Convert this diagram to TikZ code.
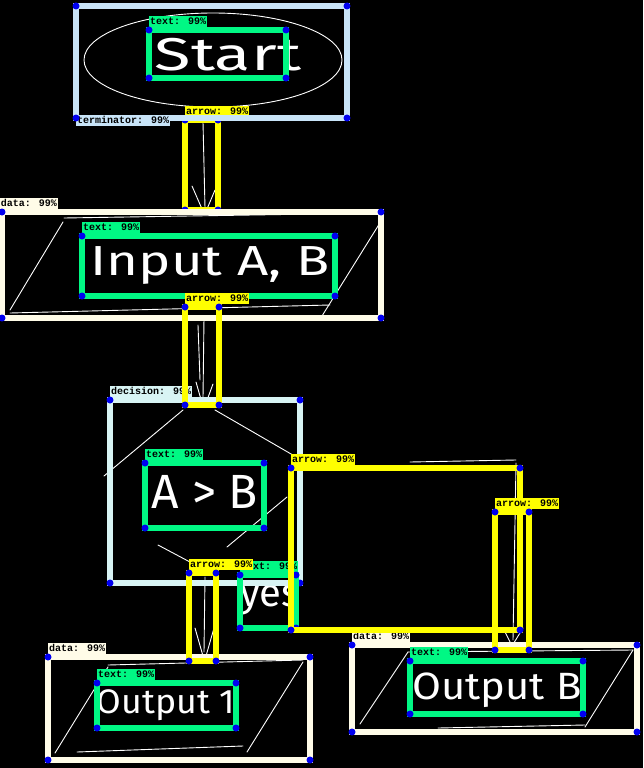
\documentclass[tikz,border=0pt]{standalone}
\usepackage{fontspec}
\newfontfamily\lblfont{Liberation Mono}
\newfontfamily\handfont{Fira Sans}
\definecolor{termc}{HTML}{C8E4F8}
\definecolor{datac}{HTML}{FFFCE8}
\definecolor{decc}{HTML}{D8F4F4}
\definecolor{txtc}{HTML}{00F884}
\definecolor{arrc}{HTML}{FFFF00}
\definecolor{dotc}{HTML}{0000F0}
\tikzset{
 det/.style={draw=#1, line width=6.5pt, inner sep=0pt, outer sep=0pt, anchor=north west, rectangle},
 lab/.style={fill=#1, text=black, font=\lblfont\bfseries\fontsize{10}{10}\selectfont, inner xsep=1pt, inner ysep=0pt, text height=8.5pt, text depth=2.5pt, outer sep=0pt},
 hw/.style={draw=white, line width=0.9pt, line cap=round, line join=round},
 hwtext/.style={text=white, inner sep=0pt, font=\handfont\fontsize{#1}{#1}\selectfont},
}
\newcommand\dbox[6]{%
 \node[det=#6, minimum width={(#4-#2)*1pt}, minimum height={(#5-#3)*1pt}] (#1) at (#2,#3) {};
}
\newcommand\cornerdots[1]{%
 \foreach \cn in {north west,north east,south west,south east} \fill[dotc] (#1.\cn) circle[radius=3.5pt];
}
\newcommand\dlab[3]{%
 \node[lab=#2, anchor=south west, yshift=3pt] (#1-l) at (#1.north west) {#3};
}
\begin{document}
\begin{tikzpicture}[x=1pt,y=-1pt]
\useasboundingbox (0,0) rectangle (643,768);
\fill[black] (0,0) rectangle (643,768);

% ---------- hand-drawn sketch ----------
\draw[hw] (213,60) ellipse [x radius=129pt, y radius=47pt];
\node[hwtext=46] (hstart) at (228,55) {\scalebox{1.45}[1]{Start}};
% arrow 1
\draw[hw] (203,122) -- (205,208);
\draw[hw] (192,186) -- (202,209);
\draw[hw] (215,190) -- (207,209);
% input parallelogram
\draw[hw] (64,218) -- (378,213);
\draw[hw] (63,222) -- (10,310);
\draw[hw] (383,218) -- (322,316);
\draw[hw] (10,313) -- (330,305);
\node[hwtext=42] (hinput) at (210,266) {\scalebox{1.3}[1]{Input A, B}};
% arrow 2
\draw[hw] (204,318) -- (203,398);
\draw[hw] (196,382) -- (202,403);
\draw[hw] (213,384) -- (206,403);
\draw[hw] (198,325) -- (200,380);
% diamond
\draw[hw] (183,410) -- (104,476);
\draw[hw] (215,410) -- (298,458);
\draw[hw] (287,497) -- (227,547);
\draw[hw] (158,545) -- (190,562);
\node[hwtext=48] (hab) at (205,492) {A > B};
\node[hwtext=40] (hyes) at (270,600) {yes};
% arrow 3
\draw[hw] (205,577) -- (204,652);
\draw[hw] (195,628) -- (203,656);
\draw[hw] (214,628) -- (206,656);
% arrow 4
\draw[hw] (410,462) -- (516,460);
\draw[hw] (516,463) -- (513,640);
\draw[hw] (503,628) -- (512,646) -- (523,628);
% output 1 parallelogram
\draw[hw] (108,665) -- (303,660);
\draw[hw] (108,667) -- (55,753);
\draw[hw] (303,662) -- (247,752);
\draw[hw] (77,752) -- (243,746);
\node[hwtext=34] (hout1) at (166,705) {\scalebox{1.05}[1]{Output 1}};
% output B parallelogram
\draw[hw] (408,652) -- (633,650);
\draw[hw] (408,652) -- (360,724);
\draw[hw] (633,650) -- (585,727);
\draw[hw] (438,728) -- (585,725);
\node[hwtext=38] (houtb) at (497,690) {\scalebox{1.1}[1]{Output B}};

% ---------- detections ----------
\dbox{a1}{185}{120}{218}{210}{arrc}
\dlab{a1}{arrc}{arrow: 99\%}
\cornerdots{a1}

\dbox{term}{76}{6}{347}{118}{termc}
\node[lab=termc, anchor=north west, yshift=3pt] (term-l) at (term.south west) {terminator: 99\%};
\cornerdots{term}

\dbox{d1}{2}{212}{381}{318}{datac}
\node[lab=datac, anchor=south west, yshift=3pt] (d1-l) at (0,212) {data: 99\%};
\cornerdots{d1}

\dbox{d2}{352}{645}{637}{732}{datac}
\dlab{d2}{datac}{data: 99\%}
\cornerdots{d2}

\dbox{d3}{48}{657}{310}{760}{datac}
\dlab{d3}{datac}{data: 99\%}
\cornerdots{d3}

\dbox{dec}{110}{400}{300}{583}{decc}
\dlab{dec}{decc}{decision: 99\%}
\cornerdots{dec}

\dbox{t1}{149}{30}{286}{78}{txtc}
\dlab{t1}{txtc}{text: 99\%}
\cornerdots{t1}

\dbox{t2}{82}{236}{335}{296}{txtc}
\dlab{t2}{txtc}{text: 99\%}
\cornerdots{t2}

\dbox{t3}{145}{463}{264}{528}{txtc}
\dlab{t3}{txtc}{text: 99\%}
\cornerdots{t3}

\dbox{t4}{240}{575}{296}{628}{txtc}
\dlab{t4}{txtc}{text: 99\%}
\cornerdots{t4}

\dbox{t5}{97}{683}{236}{728}{txtc}
\dlab{t5}{txtc}{text: 99\%}
\cornerdots{t5}

\dbox{t6}{410}{661}{583}{714}{txtc}
\dlab{t6}{txtc}{text: 99\%}
\cornerdots{t6}

\dbox{a2}{185}{307}{219}{405}{arrc}
\dlab{a2}{arrc}{arrow: 99\%}
\cornerdots{a2}

\dbox{a3}{189}{573}{216}{661}{arrc}
\dlab{a3}{arrc}{arrow: 99\%}
\cornerdots{a3}

\dbox{a4}{291}{468}{520}{630}{arrc}
\dlab{a4}{arrc}{arrow: 99\%}
\cornerdots{a4}

\dbox{a5}{495}{512}{529}{650}{arrc}
\dlab{a5}{arrc}{arrow: 99\%}
\cornerdots{a5}
\end{tikzpicture}
\end{document}
